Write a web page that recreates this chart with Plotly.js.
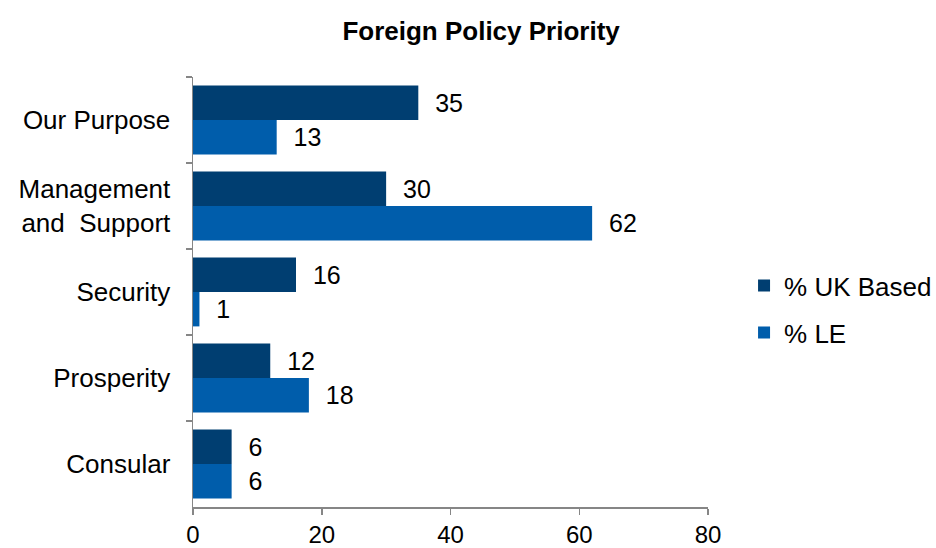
<!DOCTYPE html>
<html>
<head>
<meta charset="utf-8">
<script src="https://cdn.plot.ly/plotly-3.0.1.min.js"></script>
<style>html,body{margin:0;padding:0;background:#fff}#chart{width:936px;height:548px}</style>
</head>
<body>
<div id="chart"></div>
<script>
const categories = ["Our Purpose", "Management<br>and  Support", "Security", "Prosperity", "Consular"];
const ukBased = [35, 30, 16, 12, 6];
const le = [13, 62, 1, 18, 6];
const seriesNames = ["% UK Based", "% LE"];
const xTicks = [0, 20, 40, 60, 80];

const font = {family: "Liberation Sans, Arial, sans-serif", color: "#000"};
const pad = "\u00a0\u00a0";

const traces = [
  {type: "bar", orientation: "h", name: seriesNames[0], y: categories, x: ukBased,
   marker: {color: "#003e71"}, text: ukBased.map(v => pad + v), textposition: "outside",
   textfont: {size: 25, color: "#000", family: font.family}, cliponaxis: false, legendgroup: "a", hoverinfo: "x+y"},
  {type: "bar", orientation: "h", name: seriesNames[1], y: categories, x: le,
   marker: {color: "#005dab"}, text: le.map(v => pad + v), textposition: "outside",
   textfont: {size: 25, color: "#000", family: font.family}, cliponaxis: false, legendgroup: "b", hoverinfo: "x+y"}
];

const layout = {
  width: 936, height: 548,
  margin: {l: 193, r: 228, t: 77, b: 41, autoexpand: false},
  paper_bgcolor: "#fff", plot_bgcolor: "#fff",
  font: Object.assign({size: 25}, font),
  title: {text: "<b>Foreign Policy Priority</b>", x: 0.514, xref: "container", xanchor: "center", y: 0.943, yref: "container", yanchor: "middle",
          font: Object.assign({size: 26}, font)},
  barmode: "group", bargap: 0.2, bargroupgap: 0,
  xaxis: {range: [0, 80], tickvals: xTicks, ticktext: xTicks.map(String), showgrid: false, zeroline: false,
          showline: true, linecolor: "#868686", linewidth: 1.5, ticks: "outside", ticklen: 6, tickcolor: "#868686", tickwidth: 1.5,
          tickfont: {size: 24}, ticklabelstandoff: 0, fixedrange: true, automargin: false},
  yaxis: {autorange: false, range: [4.5, -0.5], type: "category", showgrid: false, zeroline: false,
          showline: true, linecolor: "#868686", linewidth: 1.5, ticks: "outside", tickson: "boundaries", ticklen: 6,
          tickcolor: "#868686", tickwidth: 1.5, tickfont: {size: 26}, ticklabelstandoff: 16, fixedrange: true, automargin: false},
  showlegend: true,
  legend: {x: 1.07, xanchor: "left", y: 0.46, yanchor: "middle", font: {size: 26}, tracegroupgap: 10,
           traceorder: "grouped", itemwidth: 30, bgcolor: "rgba(0,0,0,0)"}
};

Plotly.newPlot("chart", traces, layout, {displayModeBar: false, staticPlot: true});
</script>
</body>
</html>
